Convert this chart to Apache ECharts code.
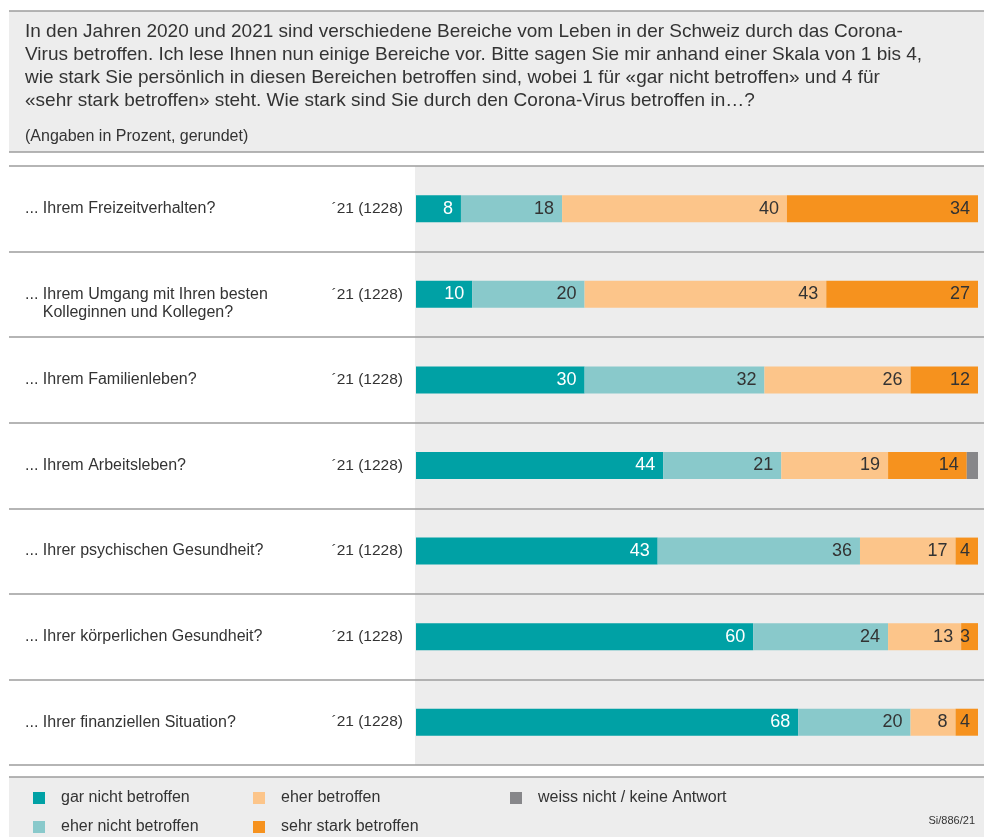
<!DOCTYPE html>
<html>
<head>
<meta charset="utf-8">
<script src="https://cdn.jsdelivr.net/npm/echarts@6/dist/echarts.min.js"></script>
<style>html,body{margin:0;padding:0;background:#fff;}#chart{width:984px;height:837px;}</style>
</head>
<body>
<div id="chart"></div>
<script>
var categories = [
  '... Ihrem Freizeitverhalten?',
  '\u00a0\n... Ihrem Umgang mit Ihren besten\n\u00a0\u00a0\u00a0\u00a0Kolleginnen und Kollegen?',
  '... Ihrem Familienleben?',
  '... Ihrem Arbeitsleben?',
  '... Ihrer psychischen Gesundheit?',
  '... Ihrer körperlichen Gesundheit?',
  '... Ihrer finanziellen Situation?'
];
var yearLabels = ['\u00b421 (1228)','\u00b421 (1228)','\u00b421 (1228)','\u00b421 (1228)','\u00b421 (1228)','\u00b421 (1228)','\u00b421 (1228)'];
var seriesNames = ['gar nicht betroffen','eher nicht betroffen','eher betroffen','sehr stark betroffen','weiss nicht / keine Antwort'];
var garNicht   = [8, 10, 30, 44, 43, 60, 68];
var eherNicht  = [18, 20, 32, 21, 36, 24, 20];
var eherBetr   = [40, 43, 26, 19, 17, 13, 8];
var sehrStark  = [34, 27, 12, 14, 4, 3, 4];
var weissNicht = [0, 0, 0, 2, 0, 0, 0];
var headerLines = [
  'In den Jahren 2020 und 2021 sind verschiedene Bereiche vom Leben in der Schweiz durch das Corona-',
  'Virus betroffen. Ich lese Ihnen nun einige Bereiche vor. Bitte sagen Sie mir anhand einer Skala von 1 bis 4,',
  'wie stark Sie persönlich in diesen Bereichen betroffen sind, wobei 1 für «gar nicht betroffen» und 4 für',
  '«sehr stark betroffen» steht. Wie stark sind Sie durch den Corona-Virus betroffen in…?'
];
var subtitle = '(Angaben in Prozent, gerundet)';
var sourceNote = 'Si/886/21';

var FONT = '"Liberation Sans", Arial, Helvetica, sans-serif';
var colors = ['#00a1a5', '#89c9cb', '#fcc58a', '#f6921e', '#87878a'];
var labelColors = ['#ffffff', '#333333', '#333333', '#333333', '#333333'];
var values = [garNicht, eherNicht, eherBetr, sehrStark, weissNicht];

var chart = echarts.init(document.getElementById('chart'), null, {renderer: 'canvas'});

var series = values.map(function (arr, i) {
  return {
    name: seriesNames[i],
    type: 'bar',
    stack: 'total',
    xAxisIndex: 0,
    yAxisIndex: 0,
    barWidth: 27,
    data: arr,
    itemStyle: {color: colors[i]},
    label: {
      show: i < 4,
      position: 'insideRight',
      distance: 8,
      color: labelColors[i],
      fontFamily: FONT,
      fontSize: 18,
      formatter: function (p) { return p.value > 0 ? String(p.value) : ''; }
    },
    emphasis: {disabled: true}
  };
});

function legendCfg(left, names) {
  return {
    orient: 'vertical',
    left: left,
    top: 790,
    padding: 0,
    itemGap: 13,
    itemWidth: 12,
    itemHeight: 12,
    icon: 'rect',
    selectedMode: false,
    data: names,
    textStyle: {color: '#333', fontFamily: FONT, fontSize: 16, padding: [0, 0, 0, 11]}
  };
}

var option = {
  animation: false,
  backgroundColor: '#ffffff',
  title: {
    left: 25,
    top: 20,
    padding: 0,
    itemGap: 17,
    text: headerLines.join('\n'),
    subtext: subtitle,
    textStyle: {color: '#333', fontFamily: FONT, fontSize: 19, fontWeight: 'normal', lineHeight: 23},
    subtextStyle: {color: '#333', fontFamily: FONT, fontSize: 16, lineHeight: 16}
  },
  legend: [
    legendCfg(33, [seriesNames[0], seriesNames[1]]),
    legendCfg(253, [seriesNames[2], seriesNames[3]]),
    legendCfg(510, [seriesNames[4]])
  ],
  grid: [
    {left: 416, width: 562, top: 166, height: 599},
    {left: 9, right: 0, top: 166, height: 599}
  ],
  xAxis: [
    {type: 'value', gridIndex: 0, min: 0, max: 100, show: false},
    {type: 'value', gridIndex: 1, min: 0, max: 100, show: false}
  ],
  yAxis: [
    {
      type: 'category', gridIndex: 0, inverse: true, data: yearLabels,
      axisLine: {show: false}, axisTick: {show: false}, splitLine: {show: false},
      axisLabel: {margin: 13, color: '#333', fontFamily: FONT, fontSize: 15.5}
    },
    {
      type: 'category', gridIndex: 1, inverse: true, data: categories,
      axisLine: {show: false}, axisTick: {show: false},
      splitLine: {show: true, showMinLine: true, showMaxLine: true, lineStyle: {color: '#9c9c9c', width: 1.5}},
      axisLabel: {inside: true, margin: 16, color: '#333', fontFamily: FONT, fontSize: 16, lineHeight: 18, align: 'left'}
    }
  ],
  graphic: [
    {type: 'rect', z: -10, shape: {x: 9, y: 11, width: 975, height: 141}, style: {fill: '#ededed'}},
    {type: 'line', z: -5, shape: {x1: 9, y1: 11, x2: 984, y2: 11}, style: {stroke: '#9c9c9c', lineWidth: 1.5}},
    {type: 'line', z: -5, shape: {x1: 9, y1: 152, x2: 984, y2: 152}, style: {stroke: '#9c9c9c', lineWidth: 1.5}},
    {type: 'rect', z: -10, shape: {x: 415, y: 166, width: 569, height: 599}, style: {fill: '#ededed'}},
    {type: 'rect', z: -10, shape: {x: 9, y: 777, width: 975, height: 60}, style: {fill: '#ededed'}},
    {type: 'line', z: -5, shape: {x1: 9, y1: 777, x2: 984, y2: 777}, style: {stroke: '#9c9c9c', lineWidth: 1.5}},
    {type: 'text', z: 5, style: {text: sourceNote, x: 975, y: 821, align: 'right', verticalAlign: 'middle', fill: '#333', fontFamily: FONT, fontSize: 11}}
  ],
  series: series
};
chart.setOption(option);
</script>
</body>
</html>
